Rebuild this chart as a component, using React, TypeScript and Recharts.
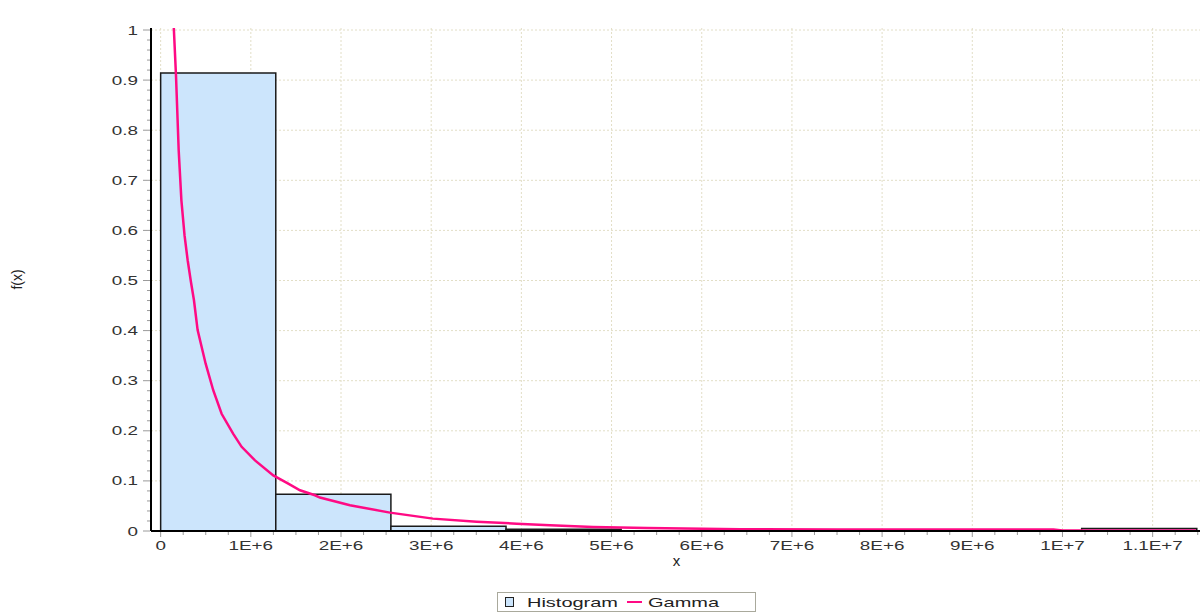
import React from 'react';
import { ComposedChart, Line, XAxis, YAxis, CartesianGrid, ReferenceArea, Legend, Label } from 'recharts';

// histogram: bin edges on x and the density of each bin
const binEdges = [0, 1276600, 2553200, 3829800, 5106400, 6383000, 7659600, 8936200, 10212800, 11489400];
const binHeights = [0.914, 0.0733, 0.0094, 0.0036, 0.0006, 0.0004, 0.0004, 0.0004, 0.0048];

// fitted gamma density
const gammaX = [
  130000, 147000, 170000, 200000, 230000, 265000, 300000, 336000, 369000, 410000, 499000,
  583000, 676000, 805000, 898000, 1046000, 1249000, 1415000, 1545000, 1711000, 1766000,
  2099000, 2543000, 3019000, 3504000, 3948000, 4317000, 4794000, 5393000, 6424000, 7500000,
  8500000, 9900000, 10000000, 11480000,
];
const gammaY = [
  1.08, 1.0, 0.91, 0.76, 0.66, 0.59, 0.54, 0.497, 0.461, 0.401, 0.334,
  0.281, 0.234, 0.194, 0.168, 0.141, 0.111, 0.0946, 0.0813, 0.0713, 0.0667,
  0.0513, 0.0367, 0.0247, 0.0187, 0.0147, 0.0113, 0.008, 0.006, 0.0034, 0.003,
  0.003, 0.003, 0.0012, 0.0012,
];

const xMajorTicks = [0, 1e6, 2e6, 3e6, 4e6, 5e6, 6e6, 7e6, 8e6, 9e6, 1e7, 1.1e7];
const xMajorLabels = ['0', '1E+6', '2E+6', '3E+6', '4E+6', '5E+6', '6E+6', '7E+6', '8E+6', '9E+6', '1E+7', '1.1E+7'];
const yMajorTicks = [0, 0.1, 0.2, 0.3, 0.4, 0.5, 0.6, 0.7, 0.8, 0.9, 1];
const yMajorLabels = ['0', '0.1', '0.2', '0.3', '0.4', '0.5', '0.6', '0.7', '0.8', '0.9', '1'];

// minor ticks: quarter steps on x, 0.02 on y
const xAllTicks = Array.from({ length: 47 }, (_, i) => i * 250000);
const yAllTicks = Array.from({ length: 51 }, (_, i) => i / 50);

const FONT = '"Liberation Sans", Arial, sans-serif';
const TICK_GRAY = '#9a9a9a';
const STRETCH = 1.45;

const chartData = gammaX.map((x, i) => ({ x, y: gammaY[i] }));

const XTick = (props: any) => {
  const { x, y, payload } = props;
  const v = payload.value;
  const idx = Math.round(v / 1e6);
  const major = Math.abs(v - idx * 1e6) < 1;
  return (
    <g>
      <line x1={x} x2={x} y1={y + 1} y2={y + (major ? 6 : 4)} stroke={TICK_GRAY} />
      {major && (
        <text
          transform={`translate(${x},${y + 19}) scale(${STRETCH},1)`}
          textAnchor="middle"
          fontSize={13}
          fontFamily={FONT}
          fill="#333"
        >
          {xMajorLabels[idx]}
        </text>
      )}
    </g>
  );
};

const YTick = (props: any) => {
  const { x, y, payload } = props;
  const v = payload.value;
  const idx = Math.round(v * 10);
  const major = Math.abs(v * 10 - idx) < 1e-6;
  return (
    <g>
      <line x1={x - 1} x2={x - (major ? 8 : 4)} y1={y} y2={y} stroke={TICK_GRAY} />
      {major && (
        <text
          transform={`translate(${x - 13},${y + 4.5}) scale(${STRETCH},1)`}
          textAnchor="end"
          fontSize={13}
          fontFamily={FONT}
          fill="#333"
        >
          {yMajorLabels[idx]}
        </text>
      )}
    </g>
  );
};

const TitleLabel = (props: any) => {
  const vb = props.viewBox || { y: 28 };
  return (
    <text x={612} y={vb.y - 8} textAnchor="middle" fontSize={14} fontFamily={FONT} fill="#222"
      textLength={293} lengthAdjust="spacingAndGlyphs">
      Probability Density Function
    </text>
  );
};

const XTitle = (props: any) => {
  const vb = props.viewBox || { x: 151, y: 531, width: 1050 };
  return (
    <text x={vb.x + vb.width / 2 + 1} y={vb.y + 35} textAnchor="middle" fontSize={15} fontFamily={FONT} fill="#222">
      x
    </text>
  );
};

const YTitle = (props: any) => {
  const vb = props.viewBox || { x: 0, y: 28, height: 503 };
  const cx = vb.x + 22;
  const cy = vb.y + vb.height / 2;
  return (
    <text x={cx} y={cy} transform={`rotate(-90,${cx},${cy})`} textAnchor="middle" fontSize={14} fontFamily={FONT} fill="#222">
      f(x)
    </text>
  );
};

const renderLegend = () => (
  <div style={{ height: 24, paddingTop: 3, boxSizing: 'border-box' }}>
    <svg width={259} height={20} style={{ display: 'block', marginLeft: 497 }}>
      <rect x={0.5} y={0.5} width={258} height={19} fill="#fff" stroke="#a9a99c" />
      <rect x={8.5} y={5.5} width={8} height={9} fill="#cce5fc" stroke="#222" />
      <text x={30} y={15} fontSize={13} fontFamily={FONT} fill="#222" textLength={91} lengthAdjust="spacingAndGlyphs">
        Histogram
      </text>
      <line x1={130} x2={145} y1={10} y2={10} stroke="#ff0a84" strokeWidth={2} />
      <text x={151} y={15} fontSize={13} fontFamily={FONT} fill="#222" textLength={71} lengthAdjust="spacingAndGlyphs">
        Gamma
      </text>
    </svg>
  </div>
);

export default function App() {
  return (
    <div style={{ position: 'absolute', left: 0, top: 0, width: 1201, height: 613, background: '#fff' }}>
      <ComposedChart width={1201} height={613} data={chartData} margin={{ top: 28, right: 1, bottom: 0, left: 0 }}>
        <CartesianGrid
          stroke="#e2dec6"
          strokeDasharray="2 2"
          horizontalValues={yMajorTicks}
          verticalValues={xMajorTicks}
        />
        <XAxis
          dataKey="x"
          type="number"
          domain={[-107000, 11525000]}
          allowDataOverflow
          ticks={xAllTicks}
          interval={0}
          tick={<XTick />}
          tickLine={false}
          tickSize={0}
          tickMargin={0}
          axisLine={{ stroke: '#000', strokeWidth: 2 }}
          height={58}
          label={<Label content={<XTitle />} />}
        />
        <XAxis
          xAxisId="top"
          orientation="top"
          type="number"
          domain={[-107000, 11525000]}
          tick={false}
          tickLine={false}
          height={0}
          axisLine={{ stroke: '#858585', strokeWidth: 2 }}
          label={<Label content={<TitleLabel />} />}
        />
        <YAxis
          type="number"
          domain={[0, 1.004]}
          allowDataOverflow
          ticks={yAllTicks}
          interval={0}
          tick={<YTick />}
          tickLine={false}
          tickSize={0}
          tickMargin={0}
          width={151}
          axisLine={{ stroke: '#000', strokeWidth: 2 }}
          label={<Label content={<YTitle />} />}
        />
        {binHeights.map((h, i) => (
          <ReferenceArea
            key={i}
            x1={binEdges[i]}
            x2={binEdges[i + 1]}
            y1={0}
            y2={h}
            fill="#cce5fc"
            fillOpacity={1}
            stroke="#1a1a1a"
            strokeWidth={1.5}
          />
        ))}
        <Line
          type="linear"
          dataKey="y"
          stroke="#ff0a84"
          strokeWidth={2.5}
          dot={false}
          activeDot={false}
          isAnimationActive={false}
        />
        <Legend verticalAlign="bottom" content={renderLegend} wrapperStyle={{ left: 0, width: 1201, bottom: 0 }} />
      </ComposedChart>
    </div>
  );
}
